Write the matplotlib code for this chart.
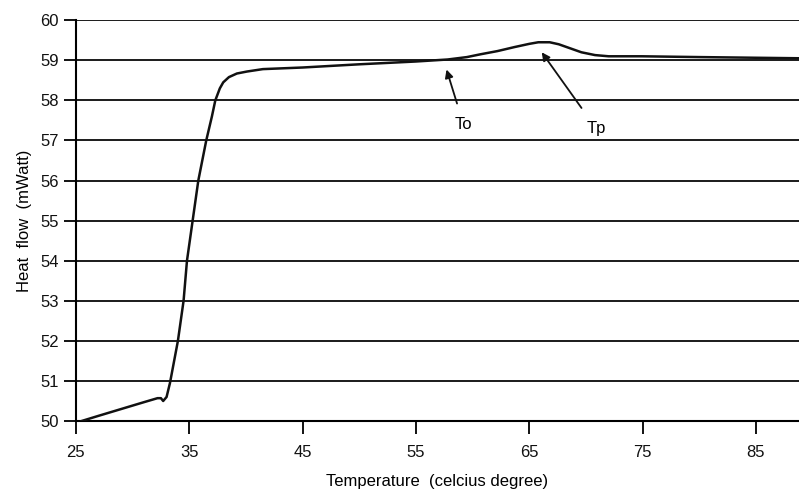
import matplotlib.pyplot as plt

plt.rcParams['font.family'] = ['Liberation Sans Narrow', 'Liberation Sans', 'DejaVu Sans']

# DSC curve
temp = [25.5, 27.0, 29.0, 31.0, 32.2, 32.5, 32.7, 33.0, 33.3, 33.6, 34.0, 34.5,
        34.8, 35.3, 35.8, 36.5, 37.0, 37.3, 37.7, 38.0, 38.5, 39.2, 40.1, 41.5,
        45.0, 50.0, 55.0, 57.8, 59.5, 60.7, 62.2, 63.7, 65.0, 65.8, 66.8, 67.6,
        68.6, 69.6, 70.8, 72.0, 74.9, 80.0, 89.0]
heat = [50.0, 50.13, 50.3, 50.47, 50.57, 50.57, 50.5, 50.6, 50.95, 51.4, 52.0, 53.0,
        54.0, 55.0, 56.0, 57.0, 57.6, 58.0, 58.3, 58.45, 58.58, 58.67, 58.72, 58.78,
        58.82, 58.9, 58.97, 59.02, 59.08, 59.15, 59.23, 59.33, 59.41, 59.45, 59.45, 59.4,
        59.3, 59.2, 59.13, 59.1, 59.1, 59.08, 59.05]

x_ticks = [25, 35, 45, 55, 65, 75, 85]
y_ticks = [50, 51, 52, 53, 54, 55, 56, 57, 58, 59, 60]

fig = plt.figure(figsize=(7.99, 4.93), dpi=100)
ax = fig.add_axes([0.095, 0.146, 0.905, 0.813])

for y in y_ticks:
    ax.axhline(y, color='#1a1a1a', lw=1.4, zorder=1)

ax.plot(temp, heat, color='#111111', lw=1.8, zorder=3)

ax.annotate('To', xy=(57.7, 58.77), xytext=(59.2, 57.4), fontsize=12,
            ha='center', va='center',
            arrowprops=dict(arrowstyle='-|>', color='#111111', lw=1.3,
                            shrinkA=8, shrinkB=0, mutation_scale=12))
ax.annotate('Tp', xy=(66.1, 59.2), xytext=(70.9, 57.3), fontsize=12,
            ha='center', va='center',
            arrowprops=dict(arrowstyle='-|>', color='#111111', lw=1.3,
                            shrinkA=9, shrinkB=0, mutation_scale=12))

ax.set_xlim(25, 88.8)
ax.set_ylim(50, 60)
ax.set_xticks(x_ticks)
ax.set_yticks(y_ticks)
ax.tick_params(axis='both', direction='out', length=9, width=1.4, labelsize=12,
               colors='#111111')
ax.tick_params(axis='x', pad=8)
for s in ['top', 'right']:
    ax.spines[s].set_visible(False)
ax.spines['left'].set_linewidth(1.5)
ax.spines['bottom'].set_linewidth(1.5)

ax.set_xlabel('Temperature  (celcius degree)', fontsize=12, labelpad=10)
ax.set_ylabel('Heat  flow  (mWatt)', fontsize=12, labelpad=6)

fig.savefig('out.png', dpi=100)
